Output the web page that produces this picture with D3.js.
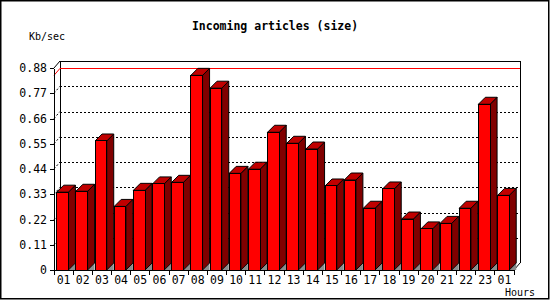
<!DOCTYPE html>
<html>
<head>
<meta charset="utf-8">
<script src="https://cdn.jsdelivr.net/npm/d3@7"></script>
<style>
  body { margin: 0; background: #fff; }
  text { font-family: "DejaVu Sans Mono", monospace; fill: #000; }
</style>
</head>
<body>
<svg id="chart" width="550" height="300"></svg>
<script>
// Hourly labels and values (Kb/sec)
const hours = ["01","02","03","04","05","06","07","08","09","10","11","12",
               "13","14","15","16","17","18","19","20","21","22","23","01"];
const kbps = [0.339, 0.343, 0.562, 0.277, 0.347, 0.375, 0.382, 0.848, 0.792, 0.421, 0.439, 0.600,
              0.552, 0.527, 0.366, 0.392, 0.269, 0.353, 0.222, 0.179, 0.203, 0.269, 0.722, 0.325];
const yTicks = [0, 0.11, 0.22, 0.33, 0.44, 0.55, 0.66, 0.77, 0.88];

const config = {
  left: 54, right: 514, top: 68, bottom: 270,
  depthX: 6, depthY: 7,   // back wall offset
  barDepth: 7
};

const svg = d3.select('#chart');

// outer border
svg.append('rect')
    .attr('x', 0.75).attr('y', 0.75)
    .attr('width', 548).attr('height', 298)
    .attr('fill', 'none')
    .attr('stroke', '#000')
    .attr('stroke-width', 1.5);

const idx = hours.map((d, i) => i);

const xScale = d3.scaleBand()
    .domain(idx)
    .range([config.left, config.right])
    .padding(0);

const yScale = d3.scaleLinear()
    .domain([0, 0.88])
    .range([config.bottom, config.top]);

const dx = config.depthX, dy = config.depthY;

// Title and axis captions
svg.append('text')
    .attr('x', 275).attr('y', 30)
    .attr('text-anchor', 'middle')
    .style('font-size', '11.5px')
    .style('font-weight', 'bold')
    .text('Incoming articles (size)');

svg.append('text')
    .attr('x', 29).attr('y', 40)
    .style('font-size', '10px')
    .text('Kb/sec');

svg.append('text')
    .attr('x', 505).attr('y', 296)
    .style('font-size', '10px')
    .text('Hours');

const chart = svg.append('g').attr('shape-rendering', 'crispEdges');

// Back wall frame
const backLeft = config.left + dx, backRight = config.right + dx;
const frame = chart.append('g')
    .attr('stroke', '#000')
    .attr('fill', 'none');
frame.append('line')
    .attr('x1', backLeft).attr('x2', backRight)
    .attr('y1', yScale(0.88) - dy).attr('y2', yScale(0.88) - dy);
frame.append('line')
    .attr('x1', backLeft).attr('x2', backLeft)
    .attr('y1', yScale(0.88) - dy).attr('y2', yScale(0) - dy);
frame.append('line')
    .attr('x1', backRight).attr('x2', backRight)
    .attr('y1', yScale(0.88) - dy).attr('y2', yScale(0) - dy);
frame.append('line')
    .attr('x1', config.left).attr('x2', backLeft)
    .attr('y1', yScale(0.88)).attr('y2', yScale(0.88) - dy)
    .attr('shape-rendering', 'auto');
frame.append('line')
    .attr('x1', config.right).attr('x2', backRight)
    .attr('y1', yScale(0)).attr('y2', yScale(0) - dy)
    .attr('shape-rendering', 'auto');

// Dotted gridlines on the back wall
const grid = yTicks.filter(t => t > 0 && t < 0.88);
chart.append('g')
    .selectAll('line')
    .data(grid)
  .join('line')
    .attr('x1', backLeft).attr('x2', backRight)
    .attr('y1', d => Math.round(yScale(d) - dy) + 0.5)
    .attr('y2', d => Math.round(yScale(d) - dy) + 0.5)
    .attr('stroke', '#000')
    .attr('stroke-dasharray', '2,2');
chart.append('g')
    .selectAll('line')
    .data(grid)
  .join('line')
    .attr('x1', config.left).attr('x2', backLeft)
    .attr('y1', d => yScale(d)).attr('y2', d => yScale(d) - dy)
    .attr('stroke', '#000')
    .attr('stroke-dasharray', '2,2')
    .attr('shape-rendering', 'auto');

// Max value line
const maxVal = d3.max(kbps);
chart.append('line')
    .attr('x1', backLeft).attr('x2', backRight)
    .attr('y1', Math.round(yScale(maxVal) - dy) + 0.5)
    .attr('y2', Math.round(yScale(maxVal) - dy) + 0.5)
    .attr('stroke', '#ff0000');
chart.append('line')
    .attr('x1', config.left).attr('x2', backLeft)
    .attr('y1', yScale(maxVal)).attr('y2', yScale(maxVal) - dy)
    .attr('stroke', '#ff0000')
    .attr('shape-rendering', 'auto');

// Bars
const bw = 11.7, off = 2.7, bd = config.barDepth;
const bars = chart.append('g')
    .selectAll('g')
    .data(kbps)
  .join('g')
    .attr('transform', (d, i) => `translate(${xScale(i) + off},0)`);

// floor shadow beside each bar
bars.append('polygon')
    .attr('points', `${bw},${yScale(0)} ${bw + bd},${yScale(0) - bd} ${bw + bd},${yScale(0)}`)
    .attr('fill', '#8c8c8c')
    .attr('shape-rendering', 'auto');

// side face
bars.append('polygon')
    .attr('points', d => {
      const yt = yScale(d), yb = yScale(0);
      return `${bw},${yt} ${bw + bd},${yt - bd} ${bw + bd},${yb - bd} ${bw},${yb}`;
    })
    .attr('fill', '#800000')
    .attr('stroke', '#000')
    .attr('stroke-linejoin', 'miter')
    .attr('shape-rendering', 'auto');

// top face
bars.append('polygon')
    .attr('points', d => {
      const yt = yScale(d);
      return `0,${yt} ${bd},${yt - bd} ${bw + bd},${yt - bd} ${bw},${yt}`;
    })
    .attr('fill', '#c00000')
    .attr('stroke', '#000')
    .attr('shape-rendering', 'auto');

// front face
bars.append('rect')
    .attr('x', 0)
    .attr('y', d => yScale(d))
    .attr('width', bw)
    .attr('height', d => yScale(0) - yScale(d))
    .attr('fill', '#ff0000')
    .attr('stroke', '#000');

// Y axis (front)
const yAxis = d3.axisLeft(yScale)
    .tickValues(yTicks)
    .tickSize(4)
    .tickSizeOuter(0)
    .tickPadding(3)
    .tickFormat(d => d === 0 ? '0' : d3.format('.2f')(d));

const yAxisG = svg.append('g')
    .attr('transform', `translate(${config.left},0)`)
    .attr('shape-rendering', 'crispEdges')
    .call(yAxis);
yAxisG.selectAll('text').style('font-size', '11.5px').attr('font-family', null);
yAxisG.select('.domain').attr('stroke', '#000');

// X axis (front)
const xAxis = d3.axisBottom(xScale)
    .tickSize(0)
    .tickSizeOuter(0)
    .tickPadding(6)
    .tickFormat(i => hours[i]);

const xAxisG = svg.append('g')
    .attr('transform', `translate(0,${config.bottom})`)
    .attr('shape-rendering', 'crispEdges')
    .call(xAxis);
xAxisG.selectAll('text').style('font-size', '11.5px').attr('font-family', null);
xAxisG.select('.domain').attr('stroke', '#000');

// tick marks at slot boundaries
const bounds = idx.map(i => xScale(i)).concat([config.right]);
xAxisG.append('g')
    .selectAll('line')
    .data(bounds)
  .join('line')
    .attr('x1', d => d).attr('x2', d => d)
    .attr('y1', 0).attr('y2', 5)
    .attr('stroke', '#000');
</script>
</body>
</html>
